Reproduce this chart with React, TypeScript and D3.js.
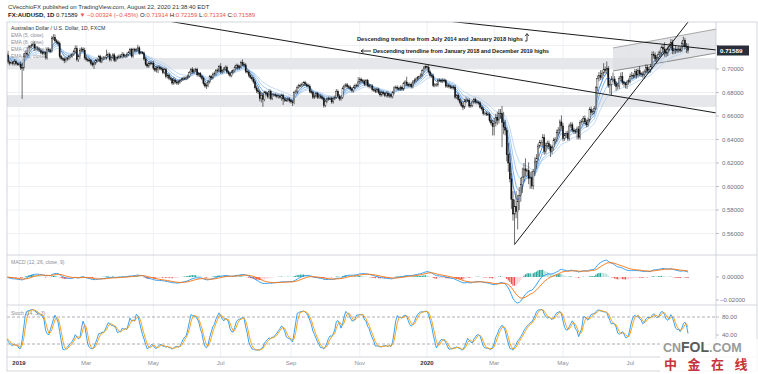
import React from 'react';
import * as d3 from 'd3';

// daily closes, AUD/USD x 10000, one row per month (Dec 2018 .. Aug 2020)
const firstOpen = 7130;
const closes: number[] = [
  7120, 7060, 7050, 7055, 7045, 7065, 7045, 7040, // Dec 18
  7040, 7012, 7010, 7110, 7135, 7125, 7180, 7190, 7200, 7210, 7175, 7180, 7170, 7160, 7140, 7135, 7140, 7095, 7170, 7160, 7150, 7260, 7270, // Jan 19
  7240, 7230, 7215, 7105, 7090, 7085, 7070, 7085, 7090, 7105, 7110, 7125, 7150, 7175, 7080, 7105, 7160, 7170, 7160, 7095, // Feb
  7080, 7075, 7070, 7045, 7035, 7050, 7070, 7075, 7105, 7065, 7090, 7095, 7095, 7120, 7125, 7080, 7100, 7120, 7075, 7095, 7100, // Mar
  7110, 7105, 7125, 7110, 7110, 7125, 7140, 7165, 7110, 7165, 7160, 7165, 7180, 7135, 7140, 7135, 7085, 7040, 7025, 7045, 7050, 7050, // Apr
  7005, 6990, 7010, 7015, 7005, 7000, 6970, 6995, 6935, 6945, 6920, 6915, 6880, 6905, 6890, 6880, 6890, 6900, 6915, 6920, 6920, 6925, 6940, // May
  6970, 6995, 6975, 6990, 6995, 6950, 6960, 6935, 6920, 6875, 6855, 6860, 6890, 6935, 6925, 6955, 6960, 6985, 6990, 7020, // Jun
  6975, 6985, 7000, 7015, 6975, 6960, 6945, 6975, 6985, 7015, 7030, 7010, 7020, 7055, 7040, 7035, 6980, 6975, 6945, 6930, 6915, 6890, 6840, // Jul
  6815, 6805, 6750, 6775, 6740, 6800, 6790, 6765, 6810, 6750, 6780, 6780, 6775, 6765, 6770, 6760, 6775, 6745, 6735, 6735, 6745, 6730, // Aug
  6720, 6715, 6800, 6805, 6845, 6860, 6860, 6870, 6885, 6870, 6860, 6855, 6810, 6800, 6760, 6770, 6790, 6760, 6770, 6760, 6750, // Sep
  6690, 6725, 6745, 6750, 6750, 6720, 6750, 6760, 6810, 6770, 6745, 6760, 6835, 6855, 6865, 6850, 6845, 6830, 6815, 6845, 6860, 6860, 6890, // Oct
  6910, 6900, 6895, 6870, 6900, 6860, 6850, 6855, 6825, 6820, 6810, 6825, 6800, 6780, 6800, 6790, 6775, 6795, 6770, 6780, 6765, // Nov
  6800, 6840, 6845, 6835, 6830, 6845, 6830, 6875, 6890, 6870, 6860, 6870, 6850, 6890, 6905, 6915, 6930, 6935, 6950, 6985, 7010, 7020, // Dec
  7015, 6975, 6945, 6940, 6860, 6865, 6865, 6905, 6905, 6895, 6905, 6900, 6855, 6860, 6850, 6845, 6840, 6845, 6760, 6775, 6740, 6715, 6690, // Jan 20
  6675, 6725, 6735, 6735, 6685, 6690, 6720, 6740, 6720, 6715, 6710, 6675, 6660, 6620, 6625, 6615, 6615, 6560, 6540, 6510, // Feb
  6540, 6590, 6565, 6620, 6620, 6545, 6505, 6480, 6270, 6200, 6065, 5890, 5765, 5830, 5785, 5870, 5925, 6015, 6080, 6150, 6135, 6135, // Mar
  6070, 6075, 6005, 6130, 6210, 6240, 6345, 6375, 6375, 6415, 6300, 6350, 6365, 6340, 6300, 6330, 6390, 6400, 6460, 6480, 6550, 6515, // Apr
  6410, 6435, 6450, 6410, 6515, 6525, 6480, 6470, 6470, 6490, 6420, 6545, 6555, 6580, 6550, 6525, 6565, 6655, 6630, 6640, 6665, // May
  6840, 6920, 6945, 6930, 6965, 6995, 6990, 7005, 6860, 6870, 6915, 6915, 6875, 6850, 6855, 6920, 6935, 6885, 6875, 6865, 6890, 6900, // Jun
  6935, 6945, 6940, 6980, 6950, 6985, 6960, 6955, 6955, 6975, 7015, 6985, 6995, 7020, 7125, 7115, 7085, 7100, 7125, 7140, 7185, 7170, 7145, // Jul
  7135, 7170, 7195, 7225, 7155, 7160, 7165, 7160, 7170, 7160, 7215, 7245, 7190, 7191, 7159, // Aug
];

// upper wick above the body, same units
const hiWick: number[] = [
  20, 35, 15, 10, 12, 20, 15, 10,
  15, 25, 40, 25, 20, 20, 20, 15, 15, 20, 25, 15, 15, 15, 15, 15, 15, 15, 15, 15, 15, 20, 26,
  25, 15, 15, 20, 15, 15, 15, 15, 15, 15, 15, 15, 15, 25, 25, 15, 20, 15, 15, 20,
  20, 15, 15, 15, 15, 15, 15, 15, 15, 15, 15, 15, 15, 45, 15, 15, 15, 15, 15, 15, 15,
  15, 15, 20, 15, 15, 15, 15, 15, 15, 15, 15, 15, 26, 15, 10, 10, 15, 15, 15, 15, 15, 15,
  20, 15, 15, 15, 15, 15, 15, 15, 15, 15, 15, 15, 10, 25, 15, 15, 15, 15, 10, 15, 15, 15, 15,
  15, 15, 20, 15, 15, 15, 15, 15, 15, 15, 15, 20, 15, 15, 15, 15, 20, 15, 15, 15,
  30, 15, 15, 15, 15, 15, 15, 15, 15, 15, 15, 15, 15, 15, 27, 15, 15, 15, 15, 15, 15, 15, 15,
  20, 20, 15, 20, 25, 15, 15, 15, 15, 15, 15, 15, 15, 15, 15, 15, 15, 15, 15, 15, 15, 15,
  15, 15, 15, 20, 15, 15, 15, 15, 10, 15, 15, 15, 15, 15, 15, 15, 15, 15, 15, 15, 15,
  15, 15, 15, 15, 15, 15, 15, 15, 20, 15, 15, 15, 15, 15, 15, 15, 15, 15, 15, 15, 15, 15, 40,
  20, 15, 15, 15, 15, 15, 15, 15, 15, 15, 15, 15, 15, 15, 15, 15, 15, 15, 15, 15, 15,
  15, 15, 15, 15, 15, 15, 15, 15, 15, 45, 15, 15, 15, 15, 15, 15, 10, 10, 15, 15, 15, 12,
  10, 20, 15, 15, 20, 15, 15, 15, 15, 15, 15, 15, 15, 15, 15, 15, 15, 15, 20, 15, 15, 15, 15,
  20, 20, 25, 15, 15, 15, 15, 15, 15, 15, 15, 15, 15, 15, 15, 15, 15, 15, 15, 25,
  45, 30, 45, 40, 40, 65, 90, 60, 20, 100, 85, 50, 70, 60, 130, 60, 70, 60, 80, 50, 90, 20,
  70, 50, 55, 20, 40, 35, 20, 20, 20, 30, 30, 25, 25, 25, 20, 25, 25, 20, 25, 25, 20, 55,
  25, 20, 20, 25, 20, 25, 20, 20, 20, 20, 25, 20, 20, 20, 25, 20, 20, 20, 25, 20, 20,
  15, 25, 30, 45, 25, 55, 25, 59, 20, 30, 25, 55, 25, 20, 25, 20, 35, 40, 15, 15, 15, 20,
  25, 30, 20, 20, 20, 20, 40, 15, 25, 20, 25, 20, 25, 20, 25, 25, 25, 20, 25, 20, 15, 25, 57,
  30, 20, 25, 30, 25, 20, 30, 20, 25, 20, 20, 30, 20, 30, 25,
];

// lower wick below the body
const loWick: number[] = [
  15, 20, 20, 10, 15, 15, 15, 12,
  10, 20, 265, 25, 15, 20, 15, 15, 15, 15, 20, 15, 15, 15, 15, 15, 15, 15, 15, 15, 15, 10, 15,
  15, 15, 15, 15, 15, 15, 20, 15, 15, 15, 15, 15, 15, 15, 15, 20, 15, 15, 15, 15,
  15, 15, 15, 15, 15, 35, 15, 15, 15, 15, 15, 15, 15, 15, 15, 15, 15, 15, 15, 15, 15,
  15, 15, 15, 15, 15, 15, 15, 15, 15, 15, 15, 15, 15, 15, 10, 10, 15, 15, 15, 15, 15, 15,
  15, 15, 20, 45, 15, 15, 15, 15, 15, 15, 15, 15, 15, 15, 15, 15, 15, 15, 10, 15, 15, 15, 15,
  15, 15, 15, 15, 15, 15, 15, 15, 15, 15, 15, 25, 15, 15, 15, 15, 15, 15, 15, 15,
  15, 15, 15, 15, 15, 15, 15, 15, 15, 15, 15, 15, 15, 15, 15, 15, 15, 15, 15, 15, 15, 15, 15,
  20, 20, 25, 35, 63, 15, 15, 15, 20, 15, 15, 15, 15, 15, 15, 15, 30, 50, 15, 15, 15, 15,
  15, 30, 15, 15, 15, 15, 15, 15, 15, 15, 15, 15, 15, 15, 15, 15, 15, 15, 15, 15, 15,
  20, 15, 15, 15, 15, 15, 15, 15, 15, 15, 15, 15, 15, 15, 15, 15, 15, 15, 15, 15, 15, 15, 15,
  15, 15, 15, 15, 15, 15, 15, 15, 15, 15, 15, 15, 15, 15, 15, 15, 15, 15, 15, 15, 15,
  15, 15, 15, 15, 15, 15, 15, 15, 15, 15, 15, 15, 15, 15, 15, 15, 15, 15, 15, 15, 15, 15,
  15, 15, 15, 15, 15, 15, 15, 15, 15, 15, 15, 15, 15, 15, 15, 15, 15, 15, 15, 15, 15, 15, 15,
  25, 15, 15, 15, 15, 15, 15, 15, 15, 15, 15, 15, 15, 15, 15, 15, 15, 15, 20, 76,
  75, 30, 40, 30, 45, 210, 60, 45, 55, 75, 30, 80, 55, 259, 55, 150, 70, 55, 70, 40, 50, 40,
  50, 90, 25, 30, 40, 60, 20, 20, 40, 30, 30, 25, 25, 25, 50, 25, 25, 25, 20, 25, 30, 30,
  25, 20, 20, 20, 20, 20, 20, 20, 20, 68, 20, 20, 20, 20, 20, 20, 20, 20, 20, 20, 20,
  15, 30, 25, 25, 20, 25, 25, 30, 20, 70, 93, 25, 20, 35, 25, 25, 20, 20, 25, 30, 35, 25,
  20, 20, 20, 20, 30, 20, 20, 20, 30, 40, 20, 20, 20, 25, 20, 25, 25, 25, 25, 25, 25, 40, 40,
  30, 25, 20, 20, 30, 30, 30, 25, 20, 20, 15, 20, 25, 55, 26,
];

const priceTicks = [0.56, 0.58, 0.6, 0.62, 0.64, 0.66, 0.68, 0.7, 0.72];
const emaPeriods = [5, 8, 13, 21];
const emaColors = ['#1f6fd1', '#5e9de0', '#8dbbec', '#b0cff0'];
// support zones (price)
const zones = [[0.7, 0.7094], [0.6677, 0.6779]];
// drawn trendlines: two anchors (bar index, price) and the range of bars drawn
const trendLines = [
  { a: [305, 0.7375], b: [454, 0.7162], from: 250, to: 454 },
  { a: [103, 0.7409], b: [454, 0.6626], from: 95, to: 454 },
  { a: [325, 0.5506], b: [437, 0.7417], from: 325, to: 445 },
];
const channel = { top: [[388, 0.7179], [454, 0.7340]], bottom: [[388, 0.6983], [454, 0.7136]] };

const ema = (arr: number[], p: number) => {
  const k = 2 / (p + 1);
  const out: number[] = [];
  arr.forEach((v, i) => out.push(i === 0 ? v : v * k + out[i - 1] * (1 - k)));
  return out;
};
const sma = (arr: number[], p: number) =>
  arr.map((_, i) => d3.mean(arr.slice(Math.max(0, i - p + 1), i + 1)) as number);

export default function App() {
  const W = 758, H = 374;
  const L = 7, R = 716, T = 22, MB = 255, SB = 305, KB = 357, B = 371;
  const font = '"Liberation Sans", Arial, sans-serif';

  const n = closes.length;
  const c = closes.map(v => v / 10000);
  const o = c.map((v, i) => (i === 0 ? firstOpen / 10000 : c[i - 1]));
  const h = c.map((v, i) => Math.max(o[i], v) + hiWick[i] / 10000);
  const l = c.map((v, i) => Math.min(o[i], v) - loWick[i] / 10000);

  const dates: Date[] = [];
  const d = new Date(2018, 11, 20);
  while (dates.length < n) {
    if (d.getDay() !== 0 && d.getDay() !== 6) dates.push(new Date(d));
    d.setDate(d.getDate() + 1);
  }

  const x = d3.scaleLinear().domain([8, 269]).range([19, 427]);
  const y = d3.scaleLinear().domain([0.55, 0.72]).range([245.25, 45.5]);
  const yM = d3.scaleLinear().domain([-0.02, 0]).range([300, 277]);
  const yS = d3.scaleLinear().domain([20, 80]).range([344, 317]);

  // month ticks
  const ticks: { i: number; label: string; year: boolean }[] = [];
  dates.forEach((dt, i) => {
    if (i > 0 && dt.getMonth() !== dates[i - 1].getMonth()) {
      const m = dt.getMonth();
      if (m === 0) ticks.push({ i, label: String(dt.getFullYear()), year: true });
      else if (m % 2 === 0) ticks.push({ i, label: d3.timeFormat('%b')(dt), year: false });
    }
  });

  const emas = emaPeriods.map(p => ema(c, p));
  const e12 = ema(c, 12), e26 = ema(c, 26);
  const macd = c.map((_, i) => e12[i] - e26[i]);
  const signal = ema(macd, 9);
  const hist = macd.map((v, i) => v - signal[i]);

  const rawK = c.map((v, i) => {
    const lo = d3.min(l.slice(Math.max(0, i - 13), i + 1)) as number;
    const hi = d3.max(h.slice(Math.max(0, i - 13), i + 1)) as number;
    return hi === lo ? 50 : ((v - lo) / (hi - lo)) * 100;
  });
  const kLine = sma(rawK, 3);
  const dLine = sma(kLine, 3);

  const lineOf = (yy: (v: number) => number) =>
    d3.line<number>().x((_, i) => x(i)).y(v => yy(v));

  const trendPath = (t: typeof trendLines[0]) => {
    const slope = (t.b[1] - t.a[1]) / (t.b[0] - t.a[0]);
    const p = (i: number) => t.a[1] + (i - t.a[0]) * slope;
    return `M${x(t.from)},${y(p(t.from))}L${x(t.to)},${y(p(t.to))}`;
  };

  const ch = channel;
  const chPoly = [ch.top[0], ch.top[1], ch.bottom[1], ch.bottom[0]]
    .map(p => `${x(p[0])},${y(p[1])}`).join(' ');

  const histColor = (i: number) => {
    const v = hist[i], prev = i > 0 ? hist[i - 1] : 0;
    if (v >= 0) return v >= prev ? '#26a69a' : '#b2dfdb';
    return v <= prev ? '#ef5350' : '#ffcdd2';
  };

  const red = '#ef5350';

  return (
    <svg width={W} height={H} style={{ position: 'absolute', left: 0, top: 0, background: '#fff', fontFamily: font }}>
      <defs>
        <clipPath id="cMain"><rect x={L} y={T} width={R - L} height={MB - T} /></clipPath>
        <clipPath id="cMacd"><rect x={L} y={MB} width={R - L} height={SB - MB} /></clipPath>
        <clipPath id="cStoch"><rect x={L} y={SB} width={R - L} height={KB - SB} /></clipPath>
      </defs>

      {/* header */}
      <text x={8} y={9} fontSize={6} fill="#333">CVecchioFX published on TradingView.com, August 22, 2020 21:38:40 EDT</text>
      <text x={8} y={17} fontSize={6} fill="#131722">
        <tspan fontWeight="bold">FX:AUDUSD, 1D</tspan>
        <tspan> 0.71589 </tspan>
        <tspan fill={red}>▼ −0.00324 (−0.45%)</tspan>
        <tspan> O:</tspan><tspan fill={red}>0.71914</tspan>
        <tspan> H:</tspan><tspan fill={red}>0.72159</tspan>
        <tspan> L:</tspan><tspan fill={red}>0.71334</tspan>
        <tspan> C:</tspan><tspan fill={red}>0.71589</tspan>
      </text>

      {/* grid */}
      {ticks.map(t => (
        <line key={'v' + t.i} x1={x(t.i)} x2={x(t.i)} y1={T} y2={KB} stroke="#eef0f4" strokeWidth={1} />
      ))}
      {priceTicks.map(p => (
        <line key={'h' + p} x1={L} x2={R} y1={y(p)} y2={y(p)} stroke="#eef0f4" strokeWidth={1} />
      ))}

      {/* main pane */}
      <g clipPath="url(#cMain)">
        {zones.map((z, k) => (
          <rect key={'z' + k} x={L} width={R - L} y={y(z[1])} height={y(z[0]) - y(z[1])} fill="#e6e7eb" />
        ))}
        <polygon points={chPoly} fill="#dcdde1" fillOpacity={0.75} />
        <path d={`M${x(ch.top[0][0])},${y(ch.top[0][1])}L${x(ch.top[1][0])},${y(ch.top[1][1])}`} stroke="#888" strokeWidth={0.7} />
        <path d={`M${x(ch.bottom[0][0])},${y(ch.bottom[0][1])}L${x(ch.bottom[1][0])},${y(ch.bottom[1][1])}`} stroke="#666" strokeWidth={0.7} />
        {emas.map((e, k) => (
          <path key={'e' + k} d={lineOf(y)(e) || ''} fill="none" stroke={emaColors[k]} strokeWidth={0.8} />
        ))}
        {c.map((v, i) => {
          const up = v >= o[i];
          const top = y(Math.max(o[i], v));
          const hh = Math.max(0.7, Math.abs(y(o[i]) - y(v)));
          return (
            <g key={'k' + i}>
              <line x1={x(i)} x2={x(i)} y1={y(h[i])} y2={y(l[i])} stroke="#111" strokeWidth={0.6} />
              <rect x={x(i) - 0.6} y={top} width={1.2} height={hh} fill={up ? '#fff' : '#111'} stroke="#111" strokeWidth={0.4} />
            </g>
          );
        })}
        {trendLines.map((t, k) => (
          <path key={'t' + k} d={trendPath(t)} stroke="#1a1a1a" strokeWidth={1} fill="none" />
        ))}
      </g>

      {/* annotations */}
      <text x={357} y={41} fontSize={5.7} fontWeight={600} fill="#1a1a1a" textLength={166}>Descending trendline from July 2014 and January 2018 highs</text>
      <path d="M527,41 L527,34 M525.2,36 L527,33.5 L528.8,36 M525,41 L527,41" stroke="#1a1a1a" strokeWidth={0.8} fill="none" />
      <path d="M371,51 L361,51 M363.5,49.2 L361,51 L363.5,52.8" stroke="#1a1a1a" strokeWidth={0.9} fill="none" />
      <text x={373} y={53} fontSize={5.7} fontWeight={600} fill="#1a1a1a" textLength={176}>Descending trendline from January 2018 and December 2019 highs</text>

      {/* legends */}
      <text x={11} y={30} fontSize={5.2} fill="#333">Australian Dollar / U.S. Dollar, 1D, FXCM</text>
      {emaPeriods.map((p, k) => (
        <text key={'lg' + p} x={11} y={37 + k * 7} fontSize={5} fill="#8a8e97">EMA ({p}, close)</text>
      ))}

      {/* MACD pane */}
      <g clipPath="url(#cMacd)">
        {hist.map((v, i) => (
          <rect key={'mh' + i} x={x(i) - 0.6} width={1.2} y={Math.min(yM(0), yM(v))} height={Math.abs(yM(v) - yM(0))} fill={histColor(i)} />
        ))}
        <path d={lineOf(yM)(macd) || ''} fill="none" stroke="#2196f3" strokeWidth={0.9} />
        <path d={lineOf(yM)(signal) || ''} fill="none" stroke="#ff6d00" strokeWidth={0.9} />
      </g>
      <text x={11} y={264} fontSize={5} fill="#8a8e97">MACD (12, 26, close, 9)</text>

      {/* Stoch pane */}
      <g clipPath="url(#cStoch)">
        {[80, 20].map(v => (
          <line key={'sb' + v} x1={L} x2={R} y1={yS(v)} y2={yS(v)} stroke="#787b86" strokeWidth={0.6} strokeDasharray="3,2" />
        ))}
        <path d={lineOf(yS)(kLine) || ''} fill="none" stroke="#2196f3" strokeWidth={0.9} />
        <path d={lineOf(yS)(dLine) || ''} fill="none" stroke="#ff9800" strokeWidth={0.9} />
      </g>
      <text x={11} y={315} fontSize={5} fill="#8a8e97">Stoch (14, 3, 3)</text>

      {/* frame */}
      <rect x={L} y={T} width={W - 1 - L} height={B - T} fill="none" stroke="#c9ccd3" strokeWidth={0.8} />
      <line x1={R} x2={R} y1={T} y2={B} stroke="#c9ccd3" strokeWidth={0.8} />
      {[MB, SB, KB].map(v => (
        <line key={'sep' + v} x1={L} x2={W - 1} y1={v} y2={v} stroke="#c9ccd3" strokeWidth={0.8} />
      ))}

      {/* price axis (0.72 label sits under the last-price box) */}
      {priceTicks.map(p => (
        <g key={'pt' + p}>
          <line x1={R} x2={R + 3} y1={y(p)} y2={y(p)} stroke="#999" strokeWidth={0.6} />
          {p < 0.71 && <text x={722} y={y(p) + 2} fontSize={6} fill="#6a6d78">{p.toFixed(5)}</text>}
        </g>
      ))}
      <rect x={717} y={45.5} width={32} height={10} fill="#2a2e39" />
      <text x={720} y={52.6} fontSize={6.2} fill="#fff" fontWeight="bold">0.71589</text>

      {[0, -0.02].map(v => (
        <g key={'mt' + v}>
          <line x1={R} x2={R + 3} y1={yM(v)} y2={yM(v)} stroke="#999" strokeWidth={0.6} />
          <text x={v < 0 ? 720 : 722} y={yM(v) + 2} fontSize={6} fill="#6a6d78">{v < 0 ? '−0.02000' : '0.00000'}</text>
        </g>
      ))}
      {[80, 40].map(v => (
        <g key={'st' + v}>
          <line x1={R} x2={R + 3} y1={yS(v)} y2={yS(v)} stroke="#999" strokeWidth={0.6} />
          <text x={722} y={yS(v) + 2} fontSize={6} fill="#6a6d78">{v.toFixed(2)}</text>
        </g>
      ))}

      {/* time axis */}
      {ticks.map(t => (
        <text key={'tl' + t.i} x={x(t.i)} y={365} fontSize={6} textAnchor="middle"
          fill={t.year ? '#333' : '#8a8e97'} fontWeight={t.year ? 'bold' : 'normal'}>{t.label}</text>
      ))}

      {/* watermark */}
      <rect x={660} y={339} width={98} height={35} fill="#fff" fillOpacity={0.8} />
      <text x={663} y={352} fontSize={12.5} fontWeight="bold" fill="#9a9a9a">
        CN<tspan fill="#5a5a5a" fontSize={14}>FOL</tspan><tspan fill="#9a9a9a">.COM</tspan>
      </text>
      <text x={664} y={369} fontSize={13} fill="#c4343c" letterSpacing={10.5} fontFamily='"Noto Sans CJK SC", sans-serif' fontWeight="bold">中金在线</text>
    </svg>
  );
}
